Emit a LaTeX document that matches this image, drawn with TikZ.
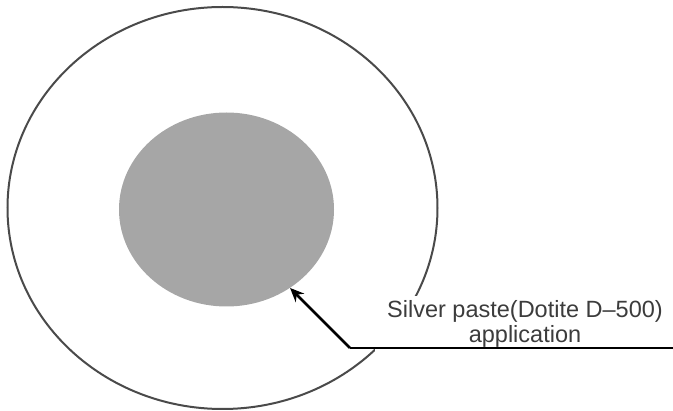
\documentclass[tikz,border=0pt]{standalone}
\usepackage{fontspec}
\setmainfont{Liberation Sans}
\usetikzlibrary{arrows.meta,shapes.geometric}
\definecolor{rim}{HTML}{4A4A4A}
\definecolor{paste}{HTML}{A6A6A6}
\definecolor{txt}{HTML}{3C3C3C}
\tikzset{
  rimline/.style={ellipse, draw=rim, line width=2pt, inner sep=0pt},
  pastefill/.style={ellipse, fill=paste, inner sep=0pt},
  labelbox/.style={fill=white, text=txt, align=center, font=\fontsize{23.5}{25}\selectfont, inner sep=0pt},
  leader/.style={draw=black, line width=2.6pt},
  pointer/.style={leader, -{Stealth[length=14pt, width=12pt]}}
}
\begin{document}
\begin{tikzpicture}[x=1pt, y=-1pt]
\useasboundingbox (0,0) rectangle (673,411);
\node[rimline, minimum width=430pt, minimum height=402pt] (outer) at (222.5,208) {};
\node[pastefill, minimum width=215pt, minimum height=194pt] (inner) at (226.5,209.5) {};
\node[labelbox, minimum width=300pt, minimum height=56pt] (lab) at (525,324) {Silver paste(Dotite D–500)\\application};
\coordinate (corner) at (350,348);
\coordinate (rend) at (673,348);
\draw[leader] (rend) -- (corner);
\draw[pointer] (corner) -- (inner.-51);
\end{tikzpicture}
\end{document}
